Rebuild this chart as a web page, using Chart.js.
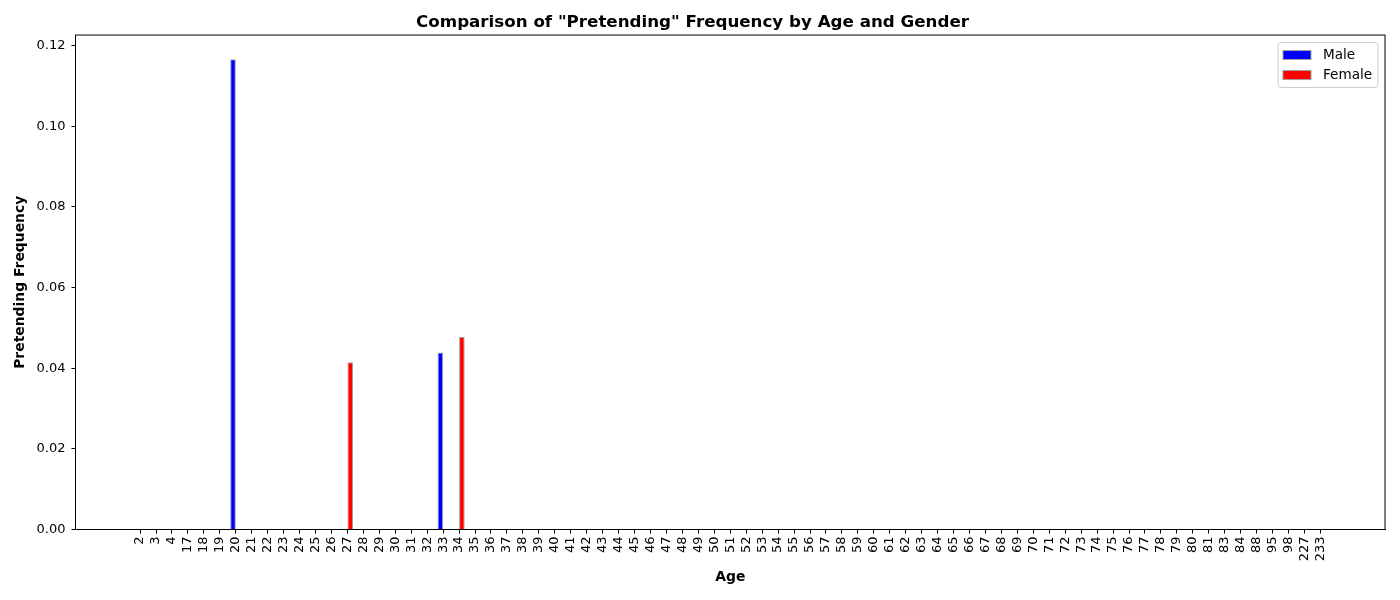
<!DOCTYPE html>
<html>
<head>
<meta charset="utf-8">
<script src="https://cdn.jsdelivr.net/npm/chart.js@4"></script>
<style>
  html, body { margin: 0; padding: 0; background: #fff; }
  #wrap { width: 1400px; height: 600px; position: relative; }
</style>
</head>
<body>
<div id="wrap"><canvas id="chart"></canvas></div>
<script>
const ages = [2, 3, 4, 17, 18, 19, 20, 21, 22, 23, 24, 25, 26, 27, 28, 29, 30, 31, 32, 33,
  34, 35, 36, 37, 38, 39, 40, 41, 42, 43, 44, 45, 46, 47, 48, 49, 50, 51, 52, 53,
  54, 55, 56, 57, 58, 59, 60, 61, 62, 63, 64, 65, 66, 67, 68, 69, 70, 71, 72, 73,
  74, 75, 76, 77, 78, 79, 80, 81, 83, 84, 88, 95, 98, 227, 233];

const maleFreq = [0, 0, 0, 0, 0, 0, 0.1166, 0, 0, 0, 0, 0, 0, 0, 0, 0, 0, 0, 0, 0.0439,
  0, 0, 0, 0, 0, 0, 0, 0, 0, 0, 0, 0, 0, 0, 0, 0, 0, 0, 0, 0,
  0, 0, 0, 0, 0, 0, 0, 0, 0, 0, 0, 0, 0, 0, 0, 0, 0, 0, 0, 0,
  0, 0, 0, 0, 0, 0, 0, 0, 0, 0, 0, 0, 0, 0, 0];

const femaleFreq = [0, 0, 0, 0, 0, 0, 0, 0, 0, 0, 0, 0, 0, 0.0415, 0, 0, 0, 0, 0, 0,
  0.0477, 0, 0, 0, 0, 0, 0, 0, 0, 0, 0, 0, 0, 0, 0, 0, 0, 0, 0, 0,
  0, 0, 0, 0, 0, 0, 0, 0, 0, 0, 0, 0, 0, 0, 0, 0, 0, 0, 0, 0,
  0, 0, 0, 0, 0, 0, 0, 0, 0, 0, 0, 0, 0, 0, 0];

const yTicks = [0, 0.02, 0.04, 0.06, 0.08, 0.10, 0.12];

const FONT = 'DejaVu Sans';

// frame around the plot area + legend box in the upper right
const framePlugin = {
  id: 'frame',
  afterDatasetsDraw(chart) {
    const { ctx, chartArea: a } = chart;
    ctx.save();
    ctx.strokeStyle = '#000';
    ctx.lineWidth = 1;
    ctx.strokeRect(a.left, a.top, a.right - a.left, a.bottom - a.top);

    // legend
    const bx = a.right - 107, by = a.top + 7.5, bw = 100, bh = 45;
    ctx.fillStyle = 'rgba(255,255,255,0.8)';
    ctx.strokeStyle = '#cccccc';
    ctx.beginPath();
    ctx.roundRect(bx, by, bw, bh, 3);
    ctx.fill();
    ctx.stroke();
    ctx.font = '13.6px ' + FONT;
    ctx.textBaseline = 'middle';
    chart.data.datasets.forEach((ds, i) => {
      const y = by + 12.5 + i * 20;
      ctx.fillStyle = ds.backgroundColor;
      ctx.fillRect(bx + 5, y - 4.5, 28, 9);
      ctx.strokeStyle = ds.borderColor;
      ctx.strokeRect(bx + 5, y - 4.5, 28, 9);
      ctx.fillStyle = '#000';
      ctx.fillText(ds.label, bx + 45, y);
    });
    ctx.restore();
  }
};

new Chart(document.getElementById('chart'), {
  type: 'bar',
  data: {
    datasets: [
      {
        label: 'Male',
        data: maleFreq.map((v, i) => ({ x: i, y: v })),
        backgroundColor: '#0000ff',
        borderColor: '#a0a0a0',
        borderWidth: 1
      },
      {
        label: 'Female',
        data: femaleFreq.map((v, i) => ({ x: i, y: v })),
        backgroundColor: '#ff0000',
        borderColor: '#a0a0a0',
        borderWidth: 1
      }
    ]
  },
  options: {
    responsive: true,
    maintainAspectRatio: false,
    animation: false,
    categoryPercentage: 0.7,
    barPercentage: 1.0,
    layout: { padding: { left: 0, right: 15, top: 0, bottom: 0 } },
    plugins: {
      legend: { display: false },
      tooltip: { enabled: false },
      title: {
        display: true,
        text: 'Comparison of "Pretending" Frequency by Age and Gender',
        color: '#000',
        font: { family: FONT, size: 16.7, weight: 'bold' },
        padding: { top: 12.5, bottom: 2.5 }
      }
    },
    scales: {
      x: {
        type: 'linear',
        min: -4.05,
        max: ages.length - 1 + 4.05,
        offset: false,
        afterBuildTicks: (scale) => {
          scale.ticks = ages.map((_, i) => ({ value: i }));
        },
        afterFit: (scale) => { scale.height = 70.5; },
        ticks: {
          autoSkip: false,
          minRotation: 90,
          maxRotation: 90,
          padding: 3,
          color: '#000',
          font: { family: FONT, size: 13 },
          callback: (v) => ages[v]
        },
        grid: { display: true, offset: false, drawOnChartArea: false, drawTicks: true, tickLength: 4, color: '#000' },
        border: { display: true, color: '#000' },
        title: {
          display: true,
          text: 'Age',
          color: '#000',
          font: { family: FONT, size: 13.9, weight: 'bold' },
          padding: { top: 0, bottom: 14 }
        }
      },
      y: {
        min: 0,
        max: 0.1226,
        afterBuildTicks: (scale) => {
          scale.ticks = yTicks.map(v => ({ value: v }));
        },
        afterFit: (scale) => { scale.width = 75.5; },
        ticks: {
          padding: 6,
          color: '#000',
          font: { family: FONT, size: 13 },
          callback: (v) => Number(v).toFixed(2)
        },
        grid: { display: true, drawOnChartArea: false, drawTicks: true, tickLength: 4, color: '#000' },
        border: { display: true, color: '#000' },
        title: {
          display: true,
          text: 'Pretending Frequency',
          color: '#000',
          font: { family: FONT, size: 13.9, weight: 'bold' },
          padding: { top: 12, bottom: 0 }
        }
      }
    }
  },
  plugins: [framePlugin]
});
</script>
</body>
</html>
